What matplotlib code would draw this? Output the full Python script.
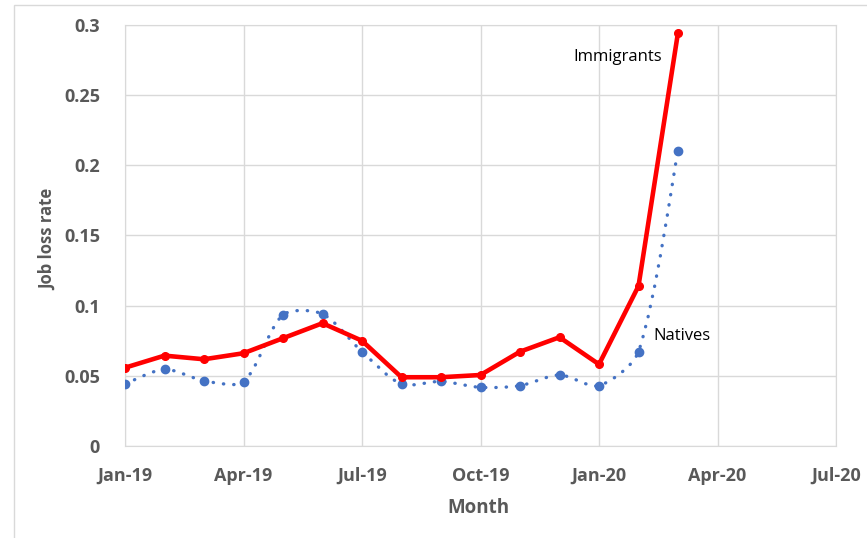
import matplotlib.pyplot as plt
from matplotlib.path import Path
from matplotlib.patches import PathPatch, Rectangle

# monthly job loss rates, Jan-19 .. Mar-20
months = ["Jan-19", "Feb-19", "Mar-19", "Apr-19", "May-19", "Jun-19", "Jul-19", "Aug-19",
          "Sep-19", "Oct-19", "Nov-19", "Dec-19", "Jan-20", "Feb-20", "Mar-20"]
immigrants = [0.0558, 0.0644, 0.0618, 0.0661, 0.0768, 0.0875, 0.0750, 0.0490,
              0.0490, 0.0506, 0.0672, 0.0775, 0.0582, 0.1140, 0.2946]
natives = [0.0442, 0.0547, 0.0465, 0.0458, 0.0934, 0.0941, 0.0672, 0.0442,
           0.0460, 0.0418, 0.0430, 0.0506, 0.0430, 0.0672, 0.2105]
tick_labels = ["Jan-19", "Apr-19", "Jul-19", "Oct-19", "Jan-20", "Apr-20", "Jul-20"]
y_ticks = [0, 0.05, 0.1, 0.15, 0.2, 0.25, 0.3]
y_labels = ["0", "0.05", "0.1", "0.15", "0.2", "0.25", "0.3"]

x = list(range(len(months)))
gray = "#595959"
grid = "#d9d9d9"
font = "Open Sans"

fig = plt.figure(figsize=(8.67, 5.38), dpi=100)
fig.patches.append(Rectangle((14 / 867, -0.1), 1.2, 1.1 - 5 / 538, transform=fig.transFigure,
                             fill=False, edgecolor=grid, linewidth=1))
ax = fig.add_axes([125 / 867, 1 - 446 / 538, (836 - 125) / 867, (446 - 25) / 538])
ax.set_xlim(0, 18)
ax.set_ylim(0, 0.3)

# excel-like smoothed line: bezier with control arms weighted by segment length (in pixels)
def smooth_path(xs, ys, sx, sy, t=0.28):
    n = len(xs)
    def dist(i, j):
        return (((xs[j] - xs[i]) * sx) ** 2 + ((ys[j] - ys[i]) * sy) ** 2) ** 0.5
    verts = [(xs[0], ys[0])]
    codes = [Path.MOVETO]
    for i in range(n - 1):
        a, b, c, d = max(i - 1, 0), i, i + 1, min(i + 2, n - 1)
        w1 = dist(b, c) / (dist(a, b) + dist(b, c)) if a != b else 0.5
        w2 = dist(b, c) / (dist(b, c) + dist(c, d)) if c != d else 0.5
        verts += [(xs[b] + (xs[c] - xs[a]) * w1 * t, ys[b] + (ys[c] - ys[a]) * w1 * t),
                  (xs[c] - (xs[d] - xs[b]) * w2 * t, ys[c] - (ys[d] - ys[b]) * w2 * t),
                  (xs[c], ys[c])]
        codes += [Path.CURVE4] * 3
    return Path(verts, codes)

blue = "#4472c4"
patch = PathPatch(smooth_path(x, natives, 711 / 18, 421 / 0.3), fill=False, edgecolor=blue,
                  linewidth=2.4, linestyle=(0, (0.1, 3.0)), capstyle="round", zorder=2)
ax.add_patch(patch)
ax.plot(x, natives, linestyle="none", marker="o", markersize=6, color=blue, zorder=3)
ax.plot(x, immigrants, color="#ff0000", linewidth=3.3, marker="o", markersize=5.5,
        solid_joinstyle="round", zorder=4)

ax.text(13.6, 0.277, "Immigrants", ha="right", va="center", fontsize=12, color="black",
        family=font)
ax.text(13.37, 0.0784, "Natives", ha="left", va="center", fontsize=12, color="black",
        family=font)

ax.set_xticks(range(0, 19, 3))
ax.set_xticklabels(tick_labels)
ax.set_yticks(y_ticks)
ax.set_yticklabels(y_labels)
ax.grid(True, color=grid, linewidth=1)
ax.set_axisbelow(True)
for s in ax.spines.values():
    s.set_color(grid)
ax.tick_params(length=0, pad=15, labelsize=13, labelcolor=gray)
ax.tick_params(axis="y", pad=18)
for lab in ax.get_xticklabels() + ax.get_yticklabels():
    lab.set_fontweight("bold")
    lab.set_family(font)
ax.set_xlabel("Month", fontsize=13.5, fontweight="bold", color=gray, family=font)
ax.set_ylabel("Job loss rate", fontsize=12, fontweight="bold", color=gray, family=font)
ax.xaxis.set_label_coords(0.5 + (478 - 480) / 711, -(498 - 446) / 421)
ax.yaxis.set_label_coords(-(125 - 57) / 711, 0.49)

fig.savefig("out.png", dpi=100)
